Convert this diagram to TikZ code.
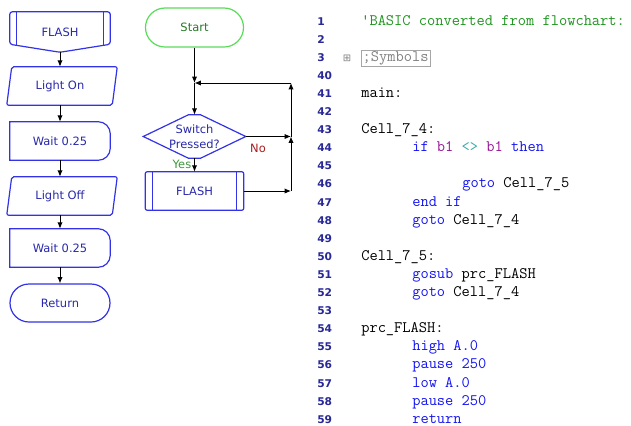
\documentclass[tikz,border=0pt]{standalone}
\usepackage{fontspec}
\setmainfont{DejaVu Sans}
\usetikzlibrary{arrows.meta,calc}

\definecolor{boxblue}{RGB}{50,50,230}
\definecolor{boxtext}{RGB}{40,40,170}
\definecolor{startgreen}{RGB}{90,220,90}
\definecolor{starttext}{RGB}{40,120,40}
\definecolor{nored}{RGB}{170,30,30}
\definecolor{yesgreen}{RGB}{60,150,60}
\definecolor{kwblue}{RGB}{20,20,240}
\definecolor{numblue}{RGB}{40,40,150}
\definecolor{cmtgreen}{RGB}{30,150,30}
\definecolor{varpurple}{RGB}{150,20,150}
\definecolor{optteal}{RGB}{60,170,170}
\definecolor{symgray}{RGB}{128,128,128}

\def\flowtext{\fontsize{8.6}{11.25}\selectfont}
\def\numtext{\fontsize{8}{10}\selectfont\bfseries}
\def\codetext{\ttfamily\fontsize{12}{14}\selectfont}
\def\kw#1{\textcolor{kwblue}{#1}}

\tikzset{
    blk/.style={minimum width=75pt, minimum height=28.5pt, inner sep=0pt, text=boxtext, font=\flowtext},
    boxline/.style={draw=boxblue, line width=0.9pt},
    arr/.style={-{Latex[length=4.8pt,width=4pt]}, line width=0.75pt},
    lbl/.style={inner sep=0pt, font=\flowtext},
    num/.style={anchor=base west, inner sep=0pt, text=numblue, font=\numtext},
    code/.style={anchor=base west, inner sep=0pt, font=\codetext}
}

\begin{document}
\begin{tikzpicture}[x=0.75pt, y=-0.75pt]
    \useasboundingbox (0,0) rectangle (631,425);
    % subroutine chart
    \node[blk, minimum height=30pt] (fl) at (60,32) {FLASH};
    \node[blk] (on) at (60,86) {Light On};
    \node[blk] (w1) at (60,141) {Wait 0.25};
    \node[blk] (off) at (60,196) {Light Off};
    \node[blk] (w2) at (60,248) {Wait 0.25};
    \node[blk, boxline, rounded corners=14.25pt] (ret) at (60,303) {Return};
    \draw[boxline, rounded corners=2pt] (fl.north west) -- (fl.north east) -- ([yshift=6pt]fl.south east) -- (fl.south) -- ([yshift=6pt]fl.south west) -- cycle;
    \draw[boxline] ([xshift=5.25pt]fl.north west) -- ([xshift=5.25pt,yshift=5.2pt]fl.south west);
    \draw[boxline] ([xshift=-5.25pt]fl.north east) -- ([xshift=-5.25pt,yshift=5.2pt]fl.south east);
    \foreach \b in {on,off}{
    \draw[boxline, rounded corners=1.5pt] ([xshift=1.5pt]\b.north west) -- ([xshift=5.25pt]\b.north east) -- ([xshift=1.5pt]\b.south east) -- ([xshift=-2.25pt]\b.south west) -- cycle;}
    \foreach \b in {w1,w2}{
    \draw[boxline] (\b.north west) -- ([xshift=-9pt]\b.north east) arc[start angle=-90, end angle=0, radius=12] -- ([yshift=9pt]\b.south east) arc[start angle=0, end angle=90, radius=12] -- (\b.south west) -- cycle;}
    \draw[arr] (fl) -- (on);
    \draw[arr] (on) -- (w1);
    \draw[arr] (w1) -- (off);
    \draw[arr] (off) -- (w2);
    \draw[arr] (w2) -- (ret);
    % main chart
    \node[blk, minimum width=73.5pt, minimum height=29.25pt, draw=startgreen, line width=0.9pt, text=starttext, rounded corners=14.6pt] (start) at (194.5,27.5) {Start};
    \node[blk, minimum width=76.5pt, minimum height=32.25pt, align=center] (sw) at (194.5,136.5) {Switch\\Pressed?};
    \node[blk, minimum width=73.5pt] (fl2) at (194.5,191) {FLASH};
    \draw[boxline] (sw.west) -- ([xshift=-4.5pt]sw.north) -- ([xshift=4.5pt]sw.north) -- (sw.east) -- ([xshift=4.5pt]sw.south) -- ([xshift=-4.5pt]sw.south) -- cycle;
    \draw[boxline, rounded corners=1.5pt] (fl2.north west) rectangle (fl2.south east);
    \draw[boxline] ([xshift=5.25pt]fl2.north west) -- ([xshift=5.25pt]fl2.south west);
    \draw[boxline] ([xshift=-5.25pt]fl2.north east) -- ([xshift=-5.25pt]fl2.south east);
    \coordinate (j1) at (194.5,83);
    \coordinate (j2) at (291,83);
    \coordinate (j3) at (291,136.5);
    \coordinate (j4) at (291,191);
    \draw[arr] (start) -- (j1);
    \draw[arr] (j1) -- (sw);
    \draw[arr] (sw) -- (j3);
    \draw[arr] (sw) -- (fl2);
    \draw[arr] (fl2) -- (j4);
    \draw[arr] (j4) -- (j3);
    \draw[arr] (j3) -- (j2);
    \draw[arr] (j2) -- (j1);
    \node[lbl, text=nored] (no) at (258,148) {No};
    \node[lbl, text=yesgreen] (yes) at (182,164) {Yes};
    % code listing
    \foreach \n [count=\i from 0] in {1,2,3,40,41,42,43,44,45,46,47,48,49,50,51,52,53,54,55,56,57,58,59}{
    \node[num] (n\n) at (317,{25+18.1*\i}) {\n};}
    \node[code, text=cmtgreen] (c1) at (361,25) {\textquotesingle BASIC converted from flowchart:};
    \node[inner sep=0pt, text=symgray, font=\fontsize{7.5}{8}\selectfont] (tog) at (347,58) {⊞};
    \node[code, text=symgray, draw=symgray!70, inner sep=1pt, line width=0.6pt] (c3) at (361,{25+18.1*2}) {;Symbols};
    \node[code] (c41) at (361,{25+18.1*4}) {main:};
    \node[code] (c43) at (361,{25+18.1*6}) {Cell\_7\_4:};
    \node[code] (c44) at (412,{25+18.1*7}) {\kw{if} \textcolor{varpurple}{b1} \textcolor{optteal}{<>} \textcolor{varpurple}{b1} \kw{then}};
    \node[code] (c46) at (462,{25+18.1*9}) {\kw{goto} Cell\_7\_5};
    \node[code] (c47) at (412,{25+18.1*10}) {\kw{end if}};
    \node[code] (c48) at (412,{25+18.1*11}) {\kw{goto} Cell\_7\_4};
    \node[code] (c50) at (361,{25+18.1*13}) {Cell\_7\_5:};
    \node[code] (c51) at (412,{25+18.1*14}) {\kw{gosub} prc\_FLASH};
    \node[code] (c52) at (412,{25+18.1*15}) {\kw{goto} Cell\_7\_4};
    \node[code] (c54) at (361,{25+18.1*17}) {prc\_FLASH:};
    \node[code] (c55) at (412,{25+18.1*18}) {\kw{high A.0}};
    \node[code] (c56) at (412,{25+18.1*19}) {\kw{pause 250}};
    \node[code] (c57) at (412,{25+18.1*20}) {\kw{low A.0}};
    \node[code] (c58) at (412,{25+18.1*21}) {\kw{pause 250}};
    \node[code] (c59) at (412,{25+18.1*22}) {\kw{return}};
\end{tikzpicture}
\end{document}
